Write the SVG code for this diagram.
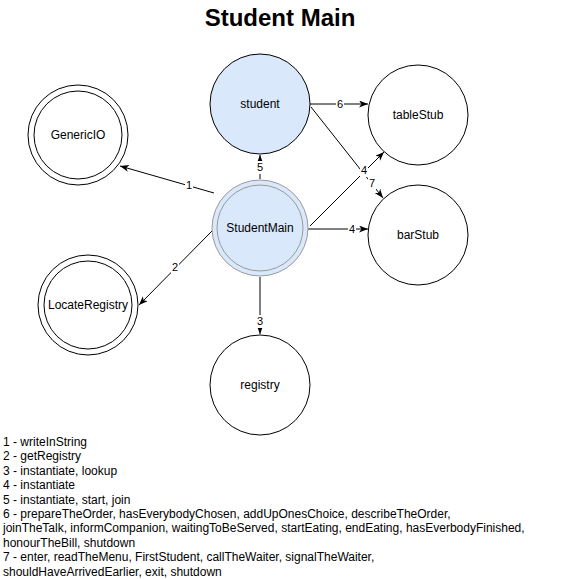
<svg xmlns="http://www.w3.org/2000/svg" width="569" height="579" viewBox="0 0 569 579">
<style>
.n{fill:#fff;stroke:#000;stroke-width:1}
.b{fill:#dae8fc;stroke:#000;stroke-width:1}
.t{font-family:"Liberation Sans",Arial,sans-serif;font-size:12px;fill:#000;text-anchor:middle;dominant-baseline:central}
.e{stroke:#000;stroke-width:1;fill:none;marker-end:url(#a)}
.lb{fill:#fff}
.el{font-family:"Liberation Sans",Arial,sans-serif;font-size:11px;fill:#000;text-anchor:middle;dominant-baseline:central}
.lg{font-family:"Liberation Sans",Arial,sans-serif;font-size:12px;fill:#000}
</style>
<defs>
<marker id="a" markerUnits="userSpaceOnUse" markerWidth="10" markerHeight="8" refX="9" refY="3.5" orient="auto">
<path d="M0,0 L9,3.5 L0,7 L2.5,3.5 Z" fill="#000"/>
</marker>
</defs>
<rect width="569" height="579" fill="#fff"/>
<text x="280" y="26" font-family="'Liberation Sans',Arial,sans-serif" font-size="24" font-weight="bold" text-anchor="middle">Student Main</text>
<g id="connectors">
<line class="e" x1="214" y1="193" x2="120" y2="166"/>
<line class="e" x1="212" y1="231" x2="139" y2="305"/>
<line class="e" x1="260" y1="277" x2="260" y2="334"/>
<line class="e" x1="308" y1="229" x2="368" y2="229"/>
<line class="e" x1="310" y1="226" x2="384" y2="152"/>
<line class="e" x1="260" y1="179" x2="260" y2="155"/>
<line class="e" x1="310" y1="104" x2="368" y2="104"/>
<line class="e" x1="311" y1="107" x2="383" y2="198"/>
<rect class="lb" x="185" y="178" width="8" height="13"/><text class="el" x="189" y="185">1</text>
<rect class="lb" x="171" y="261" width="8" height="13"/><text class="el" x="175" y="267">2</text>
<rect class="lb" x="256" y="315" width="8" height="13"/><text class="el" x="260" y="321">3</text>
<rect class="lb" x="348" y="223" width="8" height="13"/><text class="el" x="352" y="229">4</text>
<rect class="lb" x="360" y="164" width="8" height="13"/><text class="el" x="364" y="170">4</text>
<rect class="lb" x="256" y="161" width="8" height="13"/><text class="el" x="260" y="167">5</text>
<rect class="lb" x="336" y="98" width="8" height="13"/><text class="el" x="340" y="104">6</text>
<rect class="lb" x="368" y="177" width="8" height="13"/><text class="el" x="372" y="183">7</text>
</g>
<g id="student"><circle class="b" cx="260" cy="104" r="50"/><text class="t" x="260" y="104">student</text></g>
<g id="StudentMain"><circle cx="260" cy="228" r="48" fill="#dae8fc" stroke="#999" stroke-width="1"/><circle cx="260" cy="228" r="43" fill="#dae8fc" stroke="#999" stroke-width="1"/><text class="t" x="260" y="228">StudentMain</text></g>
<g id="tableStub"><circle class="n" cx="418" cy="115" r="50"/><text class="t" x="418" y="115">tableStub</text></g>
<g id="barStub"><circle class="n" cx="418" cy="235" r="50"/><text class="t" x="418" y="235">barStub</text></g>
<g id="GenericIO"><circle class="n" cx="78" cy="135" r="50"/><circle class="n" cx="78" cy="135" r="44"/><text class="t" x="78" y="135">GenericIO</text></g>
<g id="LocateRegistry"><circle class="n" cx="88" cy="305" r="50"/><circle class="n" cx="88" cy="305" r="44"/><text class="t" x="88" y="305">LocateRegistry</text></g>
<g id="registry"><circle class="n" cx="260" cy="385" r="50"/><text class="t" x="260" y="385">registry</text></g>
<g id="legend" class="lg">
<text x="3" y="446">1 - writeInString</text>
<text x="3" y="460.4">2 - getRegistry</text>
<text x="3" y="474.8">3 - instantiate, lookup</text>
<text x="3" y="489.2">4 - instantiate</text>
<text x="3" y="503.6">5 - instantiate, start, join</text>
<text x="3" y="518">6 - prepareTheOrder, hasEverybodyChosen, addUpOnesChoice, describeTheOrder,</text>
<text x="3" y="532.4">joinTheTalk, informCompanion, waitingToBeServed, startEating, endEating, hasEverbodyFinished,</text>
<text x="3" y="546.8">honourTheBill, shutdown</text>
<text x="3" y="561.2">7 - enter, readTheMenu, FirstStudent, callTheWaiter, signalTheWaiter,</text>
<text x="3" y="575.6">shouldHaveArrivedEarlier, exit, shutdown</text>
</g>
</svg>
